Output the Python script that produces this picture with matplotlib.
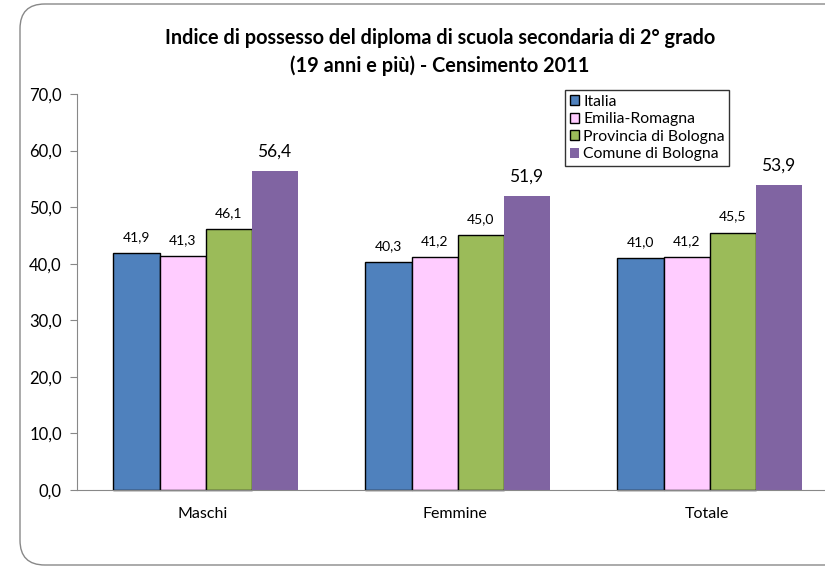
import matplotlib.pyplot as plt
import numpy as np
from matplotlib.patches import FancyBboxPatch

plt.rcParams['font.family'] = ['Lato', 'DejaVu Sans']

categorie = ['Maschi', 'Femmine', 'Totale']
serie = ['Italia', 'Emilia-Romagna', 'Provincia di Bologna', 'Comune di Bologna']
valori = [
    [41.9, 40.3, 41.0],   # Italia
    [41.3, 41.2, 41.2],   # Emilia-Romagna
    [46.1, 45.0, 45.5],   # Provincia di Bologna
    [56.4, 51.9, 53.9],   # Comune di Bologna
]
colori = ['#4F81BD', '#FFCCFF', '#9BBB59', '#8064A2']
bordi = ['black', 'black', 'black', 'none']
yticks = [0, 10, 20, 30, 40, 50, 60, 70]

fig = plt.figure(figsize=(8.25, 5.68), dpi=100)

# cornice arrotondata
frame = FancyBboxPatch((20 / 825, 3 / 568), 900 / 825, 561 / 568,
                       boxstyle='round,pad=0,rounding_size=0.03',
                       transform=fig.transFigure, facecolor='white', zorder=-10,
                       edgecolor='#888888', linewidth=1.0, mutation_aspect=825 / 568)
fig.patches.append(frame)

ax = fig.add_axes([77 / 825, 78 / 568, 756 / 825, 396 / 568])
ax.set_facecolor('none')

x = np.arange(len(categorie))
w = 0.1826
for i in range(len(serie)):
    pos = x + (i - 1.5) * w + 0.01
    bars = ax.bar(pos, valori[i], width=w, color=colori[i], edgecolor=bordi[i],
                  linewidth=1.0, label=serie[i], clip_on=False)
    for b, v in zip(bars, valori[i]):
        if i == 3:
            ax.text(b.get_x() + b.get_width() / 2, v + 2.0, f'{v:.1f}'.replace('.', ','),
                    ha='center', va='bottom', fontsize=12.5)
        else:
            ax.text(b.get_x() + b.get_width() / 2, v + 1.8, f'{v:.1f}'.replace('.', ','),
                    ha='center', va='bottom', fontsize=10)

ax.set_xlim(-0.5, 2.5)
ax.set_ylim(0, 70)
ax.set_yticks(yticks)
ax.set_yticklabels([f'{t:.1f}'.replace('.', ',') for t in yticks], fontsize=12)
ax.set_xticks(x)
ax.set_xticklabels(categorie, fontsize=11.5)
ax.tick_params(axis='x', length=0, pad=12)
ax.tick_params(axis='y', length=5, color='#888888', pad=6)
for s in ['top', 'right']:
    ax.spines[s].set_visible(False)
for s in ['left', 'bottom']:
    ax.spines[s].set_color('#888888')

fig.text(440 / 825, 516 / 568, 'Indice di possesso del diploma di scuola secondaria di 2° grado\n(19 anni e più) - Censimento 2011',
         ha='center', va='center', fontsize=14.3, fontweight='bold', linespacing=1.45)

leg = ax.legend(loc='upper left', bbox_to_anchor=(565 / 825, 478 / 568),
                bbox_transform=fig.transFigure, fontsize=11.3, frameon=True, fancybox=False,
                handlelength=0.6, handleheight=0.6, handletextpad=0.25, borderpad=0.3,
                labelspacing=0.22, borderaxespad=0)
leg.get_frame().set_edgecolor('black')
leg.get_frame().set_linewidth(1.0)

fig.savefig('out.png', dpi=100)
